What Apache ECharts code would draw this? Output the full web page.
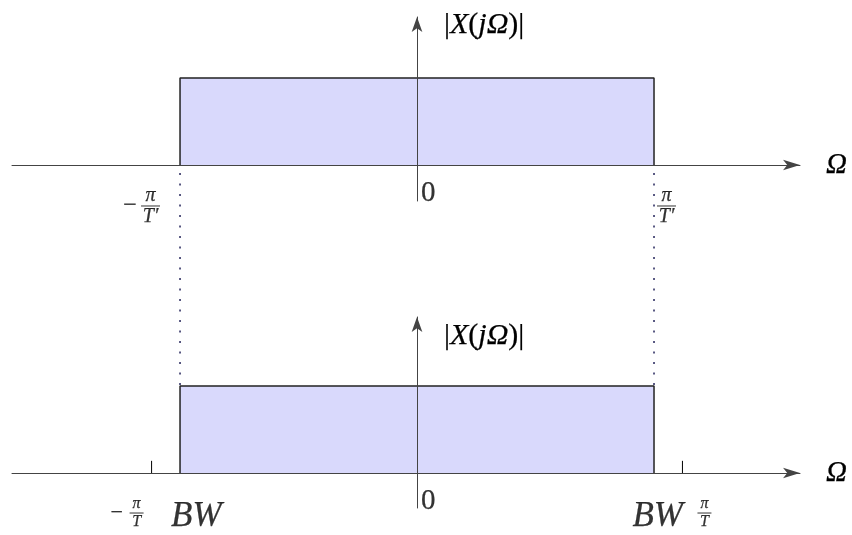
<!DOCTYPE html>
<html>
<head>
<meta charset="utf-8">
<script src="https://cdn.jsdelivr.net/npm/echarts@6/dist/echarts.min.js"></script>
<style>
  html, body { margin: 0; padding: 0; background: #fff; }
  #chart { width: 852px; height: 535px; }
</style>
</head>
<body>
<div id="chart"></div>
<script>
// spectrum before (top) and after (bottom) sampling, in units of pi/T'
const xRange = [-1.709, 1.616];
const rectX = [-1, -1, 1, 1];
const rectY = [0, 1, 1, 0];
const bandTicks = [-1.12, 1.12];   // +-pi/T
const tickHeight = 0.14;
const edges = [-1, 1];            // +-pi/T' (dotted guides)
const axisName = '|{i|X}({i|jΩ})|';
const freqName = 'Ω';
const topLabels = ['−π/T′', 'π/T′', '0'];
const bottomLabels = ['−π/T', 'π/T', 'BW', 'BW', '0'];

const FONT = 'Liberation Serif, DejaVu Serif, serif';
// a thin stroke makes the serif text a little heavier, like the original
const INK = { color: '#000', textBorderColor: '#000', textBorderWidth: 0.25 };
const chart = echarts.init(document.getElementById('chart'));

const rectData = rectX.map((x, i) => [x, rectY[i]]);

// fraction "a/b" drawn as stacked rich text, optional leading minus
function frac(txt) {
  const neg = txt.startsWith('−');
  const [num, den] = txt.replace('−', '').split('/');
  const pre = neg ? '{sp|}' : '';
  return pre + '{n|' + num + '}\n' + (neg ? '{m|−}' : '') + '{bar|}\n' + pre + '{n|' + den + '}';
}
function fracRich(size, w, mSize, mW) {
  return {
    n: Object.assign({ fontFamily: FONT, fontSize: size, fontStyle: 'italic', width: w, align: 'center', lineHeight: size * 0.85 }, INK),
    m: Object.assign({ fontFamily: FONT, fontSize: mSize, width: mW, align: 'center', lineHeight: 4 }, INK),
    bar: { width: w, height: 1, backgroundColor: '#000', lineHeight: 4 },
    sp: { width: mW }
  };
}

function labelPoint(grid, x, text, opts) {
  return {
    type: 'scatter',
    xAxisIndex: grid, yAxisIndex: grid,
    symbolSize: 0,
    silent: true,
    data: [[x, 0]],
    label: Object.assign({
      show: true, position: 'inside', verticalAlign: 'middle',
      formatter: text, fontFamily: FONT
    }, INK, opts)
  };
}

function axisPair(idx, yMin, yMax, nameGap) {
  return {
    x: {
      gridIndex: idx, type: 'value', min: xRange[0], max: xRange[1], z: 5,
      axisLine: { show: true, symbol: ['none', 'arrow'], symbolSize: [8, 17], lineStyle: { color: '#444', width: 1 } },
      axisTick: { show: false }, axisLabel: { show: false }, splitLine: { show: false },
      name: freqName, nameLocation: 'end', nameGap: 26,
      nameTextStyle: Object.assign({ fontFamily: FONT, fontStyle: 'italic', fontSize: 29 }, INK)
    },
    y: {
      gridIndex: idx, type: 'value', min: yMin, max: yMax, z: 5,
      axisLine: { show: true, onZero: true, symbol: ['none', 'arrow'], symbolSize: [8, 15], lineStyle: { color: '#444', width: 1 } },
      axisTick: { show: false }, axisLabel: { show: false }, splitLine: { show: false },
      name: axisName, nameLocation: 'end', nameGap: nameGap,
      nameTextStyle: Object.assign({
        fontFamily: FONT, fontSize: 30, align: 'left', verticalAlign: 'middle',
        padding: [0, 0, 0, 27],
        rich: { i: Object.assign({ fontFamily: FONT, fontSize: 30, fontStyle: 'italic' }, INK) }
      }, INK)
    }
  };
}

const upperAxes = axisPair(0, -0.414, 1.701, -8);
const lowerAxes = axisPair(1, -0.402, 1.793, -19);

function rectSeries(grid) {
  return {
    type: 'line', xAxisIndex: grid, yAxisIndex: grid,
    data: rectData, symbol: 'none', silent: true,
    lineStyle: { color: '#222', width: 1.5 },
    areaStyle: { color: '#d9d9fc', opacity: 1 }
  };
}

const series = [
  rectSeries(0),
  rectSeries(1),
  ...edges.map(x => ({
    type: 'line', xAxisIndex: 2, yAxisIndex: 2, symbol: 'none', silent: true,
    data: [[x, 0], [x, 1]],
    lineStyle: { color: '#23235a', width: 1.5, type: [2, 8.5] }
  })),
  ...bandTicks.map(x => ({
    type: 'line', xAxisIndex: 1, yAxisIndex: 1, symbol: 'none', silent: true,
    data: [[x, 0], [x, tickHeight]],
    lineStyle: { color: '#000', width: 1 }
  })),
  // upper labels
  labelPoint(0, edges[0], frac(topLabels[0]), { align: 'right', offset: [-20, 41], rich: fracRich(20, 19, 24, 22) }),
  labelPoint(0, edges[1], frac(topLabels[1]), { align: 'left', offset: [3, 41], rich: fracRich(20, 19, 24, 22) }),
  labelPoint(0, 0, topLabels[2], { align: 'left', offset: [4, 28], fontSize: 29 }),
  // lower labels
  labelPoint(1, bandTicks[0], frac(bottomLabels[0]), { align: 'right', offset: [-8, 40], rich: fracRich(16, 14, 22, 26) }),
  labelPoint(1, bandTicks[1], frac(bottomLabels[1]), { align: 'left', offset: [15, 40], rich: fracRich(16, 14, 22, 26) }),
  labelPoint(1, edges[0], bottomLabels[2], { align: 'left', offset: [-9, 44], fontSize: 35, fontStyle: 'italic' }),
  labelPoint(1, edges[1], bottomLabels[3], { align: 'right', offset: [29, 44], fontSize: 35, fontStyle: 'italic' }),
  labelPoint(1, 0, bottomLabels[4], { align: 'left', offset: [4, 28], fontSize: 29 })
];

chart.setOption({
  animation: false,
  backgroundColor: '#fff',
  grid: [
    { left: 12, right: 52, top: 17, bottom: 334 },
    { left: 12, right: 52, top: 317, bottom: 27 },
    { left: 12, right: 52, top: 167, bottom: 150 }
  ],
  xAxis: [upperAxes.x, lowerAxes.x, { gridIndex: 2, type: 'value', min: xRange[0], max: xRange[1], show: false }],
  yAxis: [upperAxes.y, lowerAxes.y, { gridIndex: 2, type: 'value', min: 0, max: 1, show: false }],
  series: series
});
</script>
</body>
</html>
